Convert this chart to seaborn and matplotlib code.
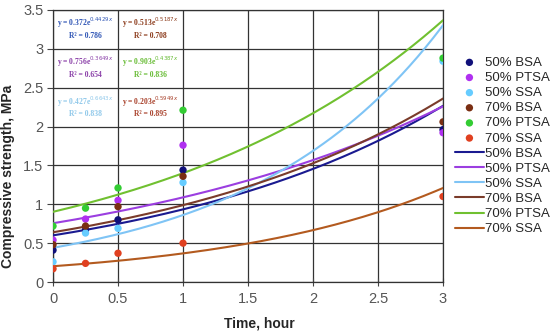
import numpy as np
import pandas as pd
import matplotlib
matplotlib.use("Agg")
import matplotlib.pyplot as plt
import seaborn as sns

# ---- data ----
times = [0, 0.25, 0.5, 1, 3]
series = ["50% BSA", "50% PTSA", "50% SSA", "70% BSA", "70% PTSA", "70% SSA"]
bsa50 = [0.41, 0.67, 0.80, 1.44, 1.96]
ptsa50 = [0.54, 0.81, 1.05, 1.76, 1.92]
ssa50 = [0.26, 0.63, 0.69, 1.28, 2.84]
bsa70 = [0.48, 0.72, 0.97, 1.36, 2.06]
ptsa70 = [0.72, 0.95, 1.21, 2.21, 2.88]
ssa70 = [0.17, 0.24, 0.37, 0.50, 1.10]
values = [bsa50, ptsa50, ssa50, bsa70, ptsa70, ssa70]

# exponential trendlines y = a * exp(b * t), as drawn
fit_a = [0.60, 0.756, 0.44, 0.64, 0.903, 0.203]
fit_b = [0.443, 0.3649, 0.672, 0.435, 0.4387, 0.5949]

eq_texts = [
    ("y = 0.372e$^{0.4429x}$", "R² = 0.786"),
    ("y = 0.513e$^{0.5187x}$", "R² = 0.708"),
    ("y = 0.756e$^{0.3649x}$", "R² = 0.654"),
    ("y = 0.903e$^{0.4387x}$", "R² = 0.836"),
    ("y = 0.427e$^{0.6643x}$", "R² = 0.838"),
    ("y = 0.203e$^{0.5949x}$", "R² = 0.895"),
]
eq_colors = ["#2f55b5", "#8b3a1a", "#8a3fa8", "#66bb33", "#8fc8ea", "#a8402a"]

x_ticks = [0, 0.5, 1, 1.5, 2, 2.5, 3]
x_ticklabels = ["0", "0.5", "1", "1.5", "2", "2.5", "3"]
y_ticks = [0, 0.5, 1, 1.5, 2, 2.5, 3, 3.5]
y_ticklabels = ["0", "0.5", "1", "1.5", "2", "2.5", "3", "3.5"]

point_colors = ["#10107a", "#b030f0", "#66ccff", "#7a2e12", "#33cc33", "#e04020"]
line_colors = ["#1a1a90", "#9b3ee0", "#7fc4f5", "#7a3b2a", "#70c030", "#b35a1f"]

# ---- plot ----
sns.set_style("white")
plt.rcParams["font.family"] = ["Liberation Sans", "DejaVu Sans"]

fig = plt.figure(figsize=(5.5, 3.31), dpi=100)
ax = fig.add_axes([0.0964, 0.148, 0.7091, 0.822])

for name, vals, c in zip(series, values, point_colors):
    df = pd.DataFrame({"t": times, "v": vals})
    sns.scatterplot(data=df, x="t", y="v", color=c, s=28, edgecolor="none",
                    label=name, ax=ax, zorder=4)

tt = np.linspace(0, 3, 200)
for name, a, b, c in zip(series, fit_a, fit_b, line_colors):
    df = pd.DataFrame({"t": tt, "v": a * np.exp(b * tt)})
    sns.lineplot(data=df, x="t", y="v", color=c, linewidth=1.5, label=name,
                 ax=ax, zorder=3)

ax.set_xlim(0, 3)
ax.set_ylim(0, 3.5)
ax.set_xticks(x_ticks)
ax.set_xticklabels(x_ticklabels)
ax.set_yticks(y_ticks)
ax.set_yticklabels(y_ticklabels)
ax.grid(True, color="#333333", linewidth=0.9)
ax.set_axisbelow(True)
for sp in ax.spines.values():
    sp.set_color("#333333")
    sp.set_linewidth(0.9)
ax.tick_params(axis="both", labelsize=10.5, colors="#444444", labelcolor="#555555",
               left=True, bottom=True)
ax.tick_params(axis="y", direction="out", length=4, pad=3)
ax.tick_params(axis="x", direction="inout", length=6, pad=4)
ax.set_xlabel("Time, hour", fontsize=10, fontweight="bold")
ax.set_ylabel("Compressive strength, MPa", fontsize=10, fontweight="bold")
ax.xaxis.set_label_coords(0.528, -0.125)
ax.yaxis.set_label_coords(-0.097, 0.39)

# equation labels
positions = [(0.25, 3.33), (0.75, 3.33), (0.25, 2.83), (0.75, 2.83), (0.25, 2.32), (0.75, 2.32)]
for (x, y), (l1, l2), c in zip(positions, eq_texts, eq_colors):
    ax.text(x, y, l1, color=c, fontsize=5.5, fontweight="bold", ha="center", va="center",
            family=["Liberation Serif", "DejaVu Serif"], zorder=5)
    ax.text(x, y - 0.165, l2, color=c, fontsize=5.5, fontweight="bold", ha="center", va="center",
            family=["Liberation Serif", "DejaVu Serif"], zorder=5)

handles, labels = ax.get_legend_handles_labels()
leg = ax.legend(handles, labels, loc="center left", bbox_to_anchor=(1.0, 0.5),
                frameon=False, fontsize=9.5, handlelength=2.2, handletextpad=0.1,
                labelspacing=0.22, borderaxespad=0.5, markerscale=1.0)

fig.savefig("out.png", dpi=100)
